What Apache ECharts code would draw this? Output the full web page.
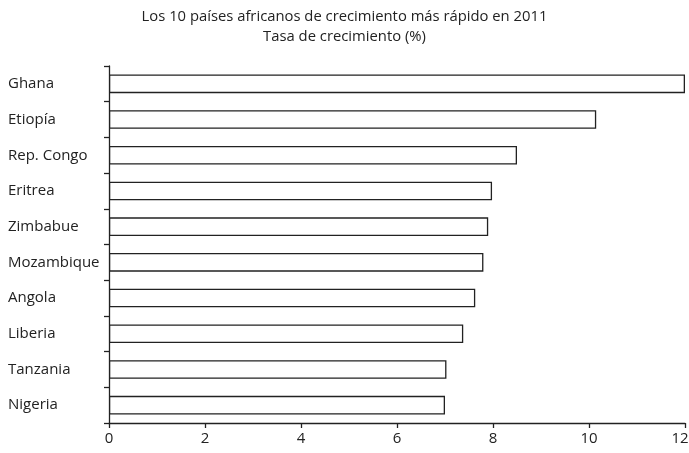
<!DOCTYPE html>
<html><head><meta charset="utf-8">
<script src="https://cdn.jsdelivr.net/npm/echarts@6/dist/echarts.min.js"></script>
<style>html,body{margin:0;padding:0;background:#fff}#c{width:689px;height:453px}</style>
</head><body><div id="c"></div>
<script>
var categories = ['Ghana','Etiopía','Rep. Congo','Eritrea','Zimbabue','Mozambique','Angola','Liberia','Tanzania','Nigeria'];
var values = [12.0, 10.15, 8.5, 7.98, 7.9, 7.8, 7.63, 7.38, 7.03, 7.0];
var xTicks = [0, 2, 4, 6, 8, 10, 12];
var titleText = 'Los 10 países africanos de crecimiento más rápido en 2011';
var subtitleText = 'Tasa de crecimiento (%)';

var chart = echarts.init(document.getElementById('c'), null, {renderer:'canvas'});
var font = 'Open Sans';
var xMax = xTicks[xTicks.length-1];
chart.setOption({
  animation: false,
  title: {
    text: titleText, subtext: subtitleText, left: 'center', top: 3, itemGap: 2,
    textStyle: {fontFamily: font, fontSize: 14.8, fontWeight: 'normal', color: '#222', lineHeight: 18},
    subtextStyle: {fontFamily: font, fontSize: 14.8, color: '#222', lineHeight: 18}
  },
  grid: {left: 109, right: 4, top: 66, bottom: 30, containLabel: false, outerBoundsMode: 'none'},
  xAxis: {
    type: 'value', min: xTicks[0], max: xMax, interval: 2,
    axisLine: {show: true, lineStyle: {color: '#222', width: 1.3}},
    axisTick: {show: true, length: 5, lineStyle: {color: '#222', width: 1.3}},
    axisLabel: {
      fontFamily: font, fontSize: 15, color: '#222', margin: 8,
      formatter: function (v) { return v === xMax ? '{r|' + v + '}' : String(v); },
      rich: {r: {fontFamily: font, fontSize: 15, color: '#222', padding: [0, 10, 0, 0]}}
    },
    splitLine: {show: false}
  },
  yAxis: {
    type: 'category', data: categories, inverse: true,
    axisLine: {show: true, lineStyle: {color: '#222', width: 1.3}},
    axisTick: {show: true, length: 5, lineStyle: {color: '#222', width: 1.3}},
    axisLabel: {fontFamily: font, fontSize: 15, color: '#222', align: 'left', margin: 101}
  },
  series: [{
    type: 'bar', data: values, barWidth: '52%',
    itemStyle: {color: '#fff', borderColor: '#222', borderWidth: 1.3}
  }]
});
</script></body></html>
